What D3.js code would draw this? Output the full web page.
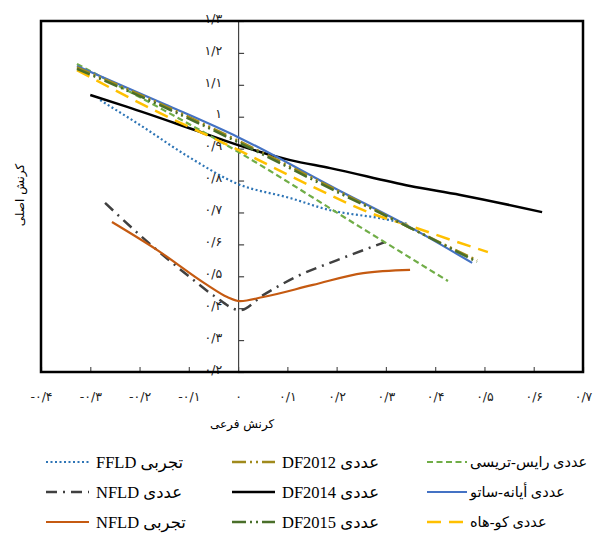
<!DOCTYPE html>
<html>
<head>
<meta charset="utf-8">
<script src="https://cdn.jsdelivr.net/npm/d3@7/dist/d3.min.js"></script>
<style>
  body { margin: 0; background: #fff; }
  svg { display: block; }
  .tick text { font-family: "DejaVu Sans", sans-serif; }
</style>
</head>
<body>
<svg id="chart" width="598" height="535"></svg>
<script>
// axis ticks
const xTickValues = [-0.4, -0.3, -0.2, -0.1, 0, 0.1, 0.2, 0.3, 0.4, 0.5, 0.6, 0.7];
const yTickValues = [0.2, 0.3, 0.4, 0.5, 0.6, 0.7, 0.8, 0.9, 1.0, 1.1, 1.2, 1.3];

// series, [minor strain, major strain]
const ffldExp = [[-0.28, 1.052], [-0.2, 0.975], [-0.1, 0.874], [0, 0.789], [0.106, 0.745], [0.187, 0.707], [0.288, 0.682], [0.345, 0.664]];
const nfldNum = [[-0.27, 0.73], [-0.2, 0.63], [-0.1, 0.5], [-0.05, 0.44], [0.004, 0.394], [0.05, 0.44], [0.12, 0.5], [0.2, 0.55], [0.298, 0.607]];
const nfldExp = [[-0.256, 0.670], [-0.164, 0.582], [-0.063, 0.473], [-0.022, 0.435], [0.004, 0.422], [0.051, 0.435], [0.152, 0.473], [0.254, 0.510], [0.349, 0.520]];
const df2012 = [[-0.327, 1.155], [-0.15, 1.035], [0, 0.925], [0.2, 0.77], [0.349, 0.652], [0.485, 0.55]];
const df2014 = [[-0.3, 1.068], [-0.225, 1.031], [-0.091, 0.960], [0, 0.911], [0.106, 0.864], [0.187, 0.839], [0.349, 0.783], [0.451, 0.755], [0.617, 0.701]];
const df2015 = [[-0.327, 1.15], [-0.15, 1.03], [0, 0.92], [0.2, 0.765], [0.349, 0.652], [0.485, 0.545]];
const riceTracey = [[-0.327, 1.165], [-0.15, 1.02], [0, 0.89], [0.248, 0.654], [0.426, 0.485]];
const ayaneSato = [[-0.327, 1.159], [-0.15, 1.04], [0, 0.936], [0.2, 0.773], [0.349, 0.654], [0.475, 0.542]];
const coHah = [[-0.327, 1.146], [-0.179, 1.027], [0, 0.896], [0.152, 0.78], [0.274, 0.695], [0.349, 0.658], [0.43, 0.615], [0.507, 0.576]];

const series = [
    {name: "تجربی FFLD", data: ffldExp, color: "#2e75b6", dash: "2,2.5", width: 2.2, col: 0, row: 0},
    {name: "عددی NFLD", data: nfldNum, color: "#404040", dash: "11,6,2,6", width: 2.5, col: 0, row: 1},
    {name: "تجربی NFLD", data: nfldExp, color: "#c55a11", dash: null, width: 2.2, col: 0, row: 2},
    {name: "عددی DF2014", data: df2014, color: "#000000", dash: null, width: 2.5, col: 1, row: 1},
    {name: "عددی رایس-تریسی", data: riceTracey, color: "#70ad47", dash: "6,3.5", width: 2.2, col: 2, row: 0},
    {name: "عددی کو-هاه", data: coHah, color: "#ffc000", dash: "14,8", width: 2.5, col: 2, row: 2},
    {name: "عددی أیانه-ساتو", data: ayaneSato, color: "#4472c4", dash: null, width: 2.2, col: 2, row: 1},
    {name: "عددی DF2012", data: df2012, color: "#a08a1c", dash: "14,4,2,4,2,4", width: 2.5, col: 1, row: 0},
    {name: "عددی DF2015", data: df2015, color: "#4a6f2a", dash: "14,4,2,4,2,4", width: 2.5, col: 1, row: 2}
];

function faNum(v) {
    let s = String(Math.round(v * 10) / 10);
    const digits = "۰۱۲۳۴۵۶۷۸۹";
    return s.replace(/[0-9]/g, c => digits[+c]).replace(".", "/");
}

const svg = d3.select("#chart");
const plotLeft = 41, plotRight = 583, plotTop = 21, plotBottom = 372;

const x = d3.scaleLinear().domain([-0.4, 0.7]).range([plotLeft, plotRight]);
const y = d3.scaleLinear().domain([0.2, 1.3]).range([plotBottom, plotTop]);

// x ticks (inward) and labels
svg.append("g")
    .attr("transform", "translate(0," + plotBottom + ")")
    .call(d3.axisTop(x).tickValues(xTickValues).tickSize(5).tickSizeOuter(0).tickFormat(""))
    .call(g => g.selectAll("line").attr("stroke", "#555").attr("stroke-width", 1.2));

svg.append("g")
    .attr("transform", "translate(0," + plotBottom + ")")
    .call(d3.axisBottom(x).tickValues(xTickValues).tickSize(0).tickPadding(20).tickFormat(faNum))
    .call(g => g.select(".domain").remove())
    .call(g => g.selectAll("text").attr("font-size", 12.5).attr("fill", "#222"));

// y axis at x = 0
svg.append("g")
    .attr("transform", "translate(" + x(0) + ",0)")
    .call(d3.axisRight(y).tickValues(yTickValues).tickSize(6).tickSizeOuter(0).tickFormat(""))
    .call(g => g.select(".domain").attr("stroke", "#444").attr("stroke-width", 1.2))
    .call(g => g.selectAll("line").attr("stroke", "#444").attr("stroke-width", 1.2));

svg.append("g")
    .attr("transform", "translate(" + x(0) + ",0)")
    .call(d3.axisLeft(y).tickValues(yTickValues).tickSize(0).tickPadding(16).tickFormat(faNum))
    .call(g => g.select(".domain").remove())
    .call(g => g.selectAll("text").attr("font-size", 12.5).attr("fill", "#222").attr("dy", "0.1em"));

// lines
const line = d3.line()
    .x(d => x(d[0]))
    .y(d => y(d[1]))
    .curve(d3.curveMonotoneX);

svg.append("g").selectAll("path")
    .data(series)
    .enter()
    .append("path")
    .attr("d", d => line(d.data))
    .attr("fill", "none")
    .attr("stroke", d => d.color)
    .attr("stroke-width", d => d.width)
    .attr("stroke-dasharray", d => d.dash);

// frame
svg.append("rect")
    .attr("x", plotLeft)
    .attr("y", plotTop)
    .attr("width", plotRight - plotLeft)
    .attr("height", plotBottom - plotTop)
    .attr("fill", "none")
    .attr("stroke", "#000")
    .attr("stroke-width", 2.5);

// axis titles
svg.append("text")
    .attr("x", x(0) + 4)
    .attr("y", 428)
    .attr("text-anchor", "middle")
    .attr("font-family", "DejaVu Sans, sans-serif")
    .attr("font-size", 12)
    .text("کرنش فرعی");

svg.append("text")
    .attr("transform", "translate(24,195) rotate(-90)")
    .attr("text-anchor", "middle")
    .attr("font-family", "DejaVu Sans, sans-serif")
    .attr("font-size", 12)
    .text("کرنش اصلی");

// legend
const colX = [46, 232, 427];
const rowY = [462, 492, 522];

let legend = svg.append("g").selectAll(".legendItem")
    .data(series)
    .enter()
    .append("g")
    .attr("class", "legendItem")
    .attr("transform", d => "translate(" + colX[d.col] + "," + rowY[d.row] + ")");

legend.append("line")
    .attr("x1", 0)
    .attr("x2", d => d.col == 2 ? 40 : 43)
    .attr("stroke", d => d.color)
    .attr("stroke-width", d => d.width)
    .attr("stroke-dasharray", d => d.dash);

legend.append("text")
    .attr("x", d => d.col == 2 ? 43 : 50)
    .attr("y", d => d.col == 2 ? 5 : 6)
    .attr("direction", "rtl")
    .attr("text-anchor", "end")
    .attr("font-family", "Liberation Serif, DejaVu Sans, serif")
    .attr("font-size", d => d.col == 2 ? 14.5 : 16.5)
    .text(d => d.name);
</script>
</body>
</html>
